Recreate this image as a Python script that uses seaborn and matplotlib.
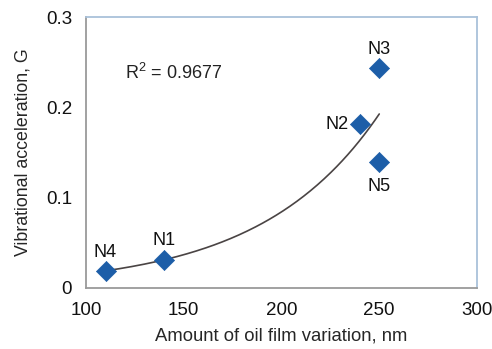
import numpy as np
import pandas as pd
import matplotlib
matplotlib.use("Agg")
import matplotlib.pyplot as plt
import seaborn as sns

names = ["N1", "N2", "N3", "N4", "N5"]
variation = [140, 240, 250, 110, 250]
accel = [0.031, 0.181, 0.243, 0.019, 0.139]
r2_text = "R$^2$ = 0.9677"
x_ticks = [100, 150, 200, 250, 300]
y_ticks = [0, 0.1, 0.2, 0.3]
y_ticklabels = ["0", "0.1", "0.2", "0.3"]

df = pd.DataFrame({"name": names, "x": variation, "y": accel})

sns.set_style("white")
plt.rcParams["font.family"] = ["Liberation Sans", "DejaVu Sans"]
plt.rcParams["mathtext.fontset"] = "custom"
plt.rcParams["mathtext.rm"] = "Liberation Sans"
plt.rcParams["mathtext.it"] = "Liberation Sans"
plt.rcParams["mathtext.default"] = "regular"

fig = plt.figure(figsize=(4.92, 3.49), dpi=100)
ax = fig.add_axes([86/492, 61/349, (477-86)/492, (288-17)/349])

# exponential trendline (fit ln y vs x)
b, lna = np.polyfit(df["x"], np.log(df["y"]), 1)
xs = np.linspace(df["x"].min(), df["x"].max(), 200)
trend = pd.DataFrame({"x": xs, "y": np.exp(lna + b * xs)})
sns.lineplot(data=trend, x="x", y="y", ax=ax, color="#4a4444", lw=1.2, zorder=2)

sns.scatterplot(data=df, x="x", y="y", ax=ax, marker="D", s=105, color="#1d5ea8",
                edgecolor="#1d5ea8", linewidth=0.5, zorder=3)

offsets = {"N1": (0, 14), "N2": (-8, 0), "N3": (0, 13.5), "N4": (0, 13.5), "N5": (0, -17)}
has = {"N1": "center", "N2": "right", "N3": "center", "N4": "center", "N5": "center"}
for _, r in df.iterrows():
    ax.annotate(r["name"], (r["x"], r["y"]), xytext=offsets[r["name"]],
                textcoords="offset points", ha=has[r["name"]], va="center",
                fontsize=13, color="#111111")

ax.text(120, 0.238, r2_text, fontsize=13, va="center", ha="left", color="#222222")

ax.set_xlim(100, 300)
ax.set_ylim(0, 0.3)
ax.set_xticks(x_ticks)
ax.set_yticks(y_ticks)
ax.set_yticklabels(y_ticklabels)
ax.set_xlabel("Amount of oil film variation, nm", fontsize=13.3, labelpad=6)
ax.set_ylabel("Vibrational acceleration, G", fontsize=12.8, labelpad=10)
ax.tick_params(axis="both", labelsize=13.5, colors="#111111", direction="out", width=1.0)
ax.tick_params(axis="x", length=4, pad=6, color="#999999")
ax.tick_params(axis="y", length=6, pad=4, color="#999999")

for side in ["left", "bottom"]:
    ax.spines[side].set_color("#9a9a9a")
    ax.spines[side].set_linewidth(1.3)
for side in ["top", "right"]:
    ax.spines[side].set_color("#a9c1da")
    ax.spines[side].set_linewidth(1.3)

fig.savefig("out.png", dpi=100)
